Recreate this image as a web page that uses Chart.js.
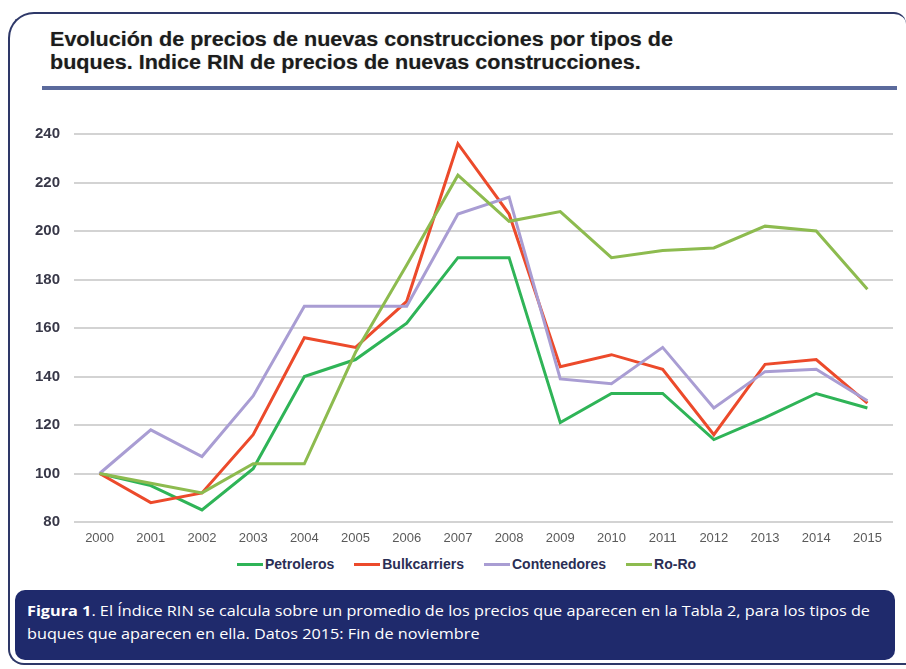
<!DOCTYPE html>
<html>
<head>
<meta charset="utf-8">
<script src="https://cdn.jsdelivr.net/npm/chart.js@4.4.1/dist/chart.umd.min.js"></script>
<style>
  html, body { margin:0; padding:0; background:#fff; }
  body { width:906px; height:669px; position:relative; overflow:hidden; font-family:"Liberation Sans", Arial, sans-serif; }
  #frame { position:absolute; left:8px; top:12px; width:898px; height:653px; box-sizing:border-box;
           border:2px solid #2e3868; border-radius:26px 12px 0 16px; border-right:none; }
  #title { position:absolute; left:50px; top:28px; font-weight:bold; font-size:20px; line-height:23px; color:#1c1c1c;
           transform-origin:0 0; white-space:nowrap; text-shadow:0 0 1px rgba(0,0,0,0.35); }
  #rule { position:absolute; left:42px; top:86px; width:855px; height:4px; background:#5b6a9c; }
  #wrap { position:absolute; left:0; top:0; width:906px; height:552px; }
  #legend { position:absolute; left:237px; top:556px; display:flex; gap:20px; font-weight:bold; font-size:14px; color:#2a2e55; line-height:16px; }
  #legend .it { display:flex; align-items:center; }
  #legend .ln { width:26px; height:3px; margin-right:2px; }
  #caption { position:absolute; left:15px; top:590px; width:880px; height:70px; background:#1f2a6c; border-radius:10px; }
  #captext { position:absolute; left:12px; top:9px; color:#fff; font-family:"Open Sans", "Noto Sans", sans-serif; font-size:15px; line-height:23px;
             transform-origin:0 0; white-space:nowrap; }
</style>
</head>
<body>
<div id="frame"></div>
<div id="title"><span id="t1">Evolución de precios de nuevas construcciones por tipos de</span><br><span>buques. Indice RIN de precios de nuevas construcciones.</span></div>
<div id="rule"></div>
<div id="wrap"><canvas id="c"></canvas></div>
<div id="legend"></div>
<div id="caption"><div id="captext"><span id="c1"><b>Figura 1</b>. El Índice RIN se calcula sobre un promedio de los precios que aparecen en la Tabla 2, para los tipos de</span><br><span>buques que aparecen en ella. Datos 2015: Fin de noviembre</span></div></div>
<script>
const years = ["2000","2001","2002","2003","2004","2005","2006","2007","2008","2009","2010","2011","2012","2013","2014","2015"];
const seriesNames = ["Petroleros","Bulkcarriers","Contenedores","Ro-Ro"];
const seriesColors = ["#2fb457","#ec4a2b","#a99dd3","#8dbb4f"];
const petroleros   = [100, 95, 85, 102, 140, 147, 162, 189, 189, 121, 133, 133, 114, 123, 133, 127];
const bulkcarriers = [100, 88, 92, 116, 156, 152, 171, 236, 207, 144, 149, 143, 116, 145, 147, 129];
const contenedores = [100, 118, 107, 132, 169, 169, 169, 207, 214, 139, 137, 152, 127, 142, 143, 130];
const roro         = [100, 96, 92, 104, 104, 150, 186, 223, 204, 208, 189, 192, 193, 202, 200, 176];
const yTicks = [80, 100, 120, 140, 160, 180, 200, 220, 240];

// fit title and caption widths
function fit(containerId, lineId, target) {
  const c = document.getElementById(containerId);
  const w = document.getElementById(lineId).getBoundingClientRect().width;
  c.style.transform = 'scaleX(' + (target / w) + ')';
}
fit('title', 't1', 623);
fit('captext', 'c1', 843);

const values = [petroleros, bulkcarriers, contenedores, roro];
const datasets = seriesNames.map((n, i) => ({
  label: n, data: values[i], borderColor: seriesColors[i], backgroundColor: seriesColors[i],
  borderWidth: 3, pointRadius: 0, tension: 0, fill: false, order: 3 - i
}));

const leg = document.getElementById('legend');
seriesNames.forEach((n, i) => {
  const it = document.createElement('div'); it.className = 'it';
  const ln = document.createElement('span'); ln.className = 'ln'; ln.style.background = seriesColors[i];
  const tx = document.createElement('span'); tx.textContent = n;
  it.appendChild(ln); it.appendChild(tx); leg.appendChild(it);
});

new Chart(document.getElementById('c'), {
  type: 'line',
  data: { labels: years, datasets },
  options: {
    responsive: true, maintainAspectRatio: false, animation: false,
    layout: { padding: { top: 134, right: 13, left: 0, bottom: 0 } },
    plugins: { legend: { display: false }, tooltip: { enabled: false } },
    scales: {
      x: {
        offset: true,
        grid: { display: false, drawTicks: false },
        border: { display: false },
        ticks: { color: '#5a5a5a', font: { family: 'Liberation Sans', size: 13 }, padding: 9, maxRotation: 0, autoSkip: false },
        afterFit: s => { s.height = 30; }
      },
      y: {
        min: 80, max: 240,
        afterBuildTicks: s => { s.ticks = yTicks.map(v => ({ value: v })); },
        grid: { color: '#d3d3d3', lineWidth: 2, drawTicks: false },
        border: { display: false },
        ticks: { color: '#383848', font: { family: 'Liberation Sans', size: 15, weight: 'bold' }, padding: 14 },
        afterFit: s => { s.width = 74; }
      }
    }
  }
});
</script>
</body>
</html>
